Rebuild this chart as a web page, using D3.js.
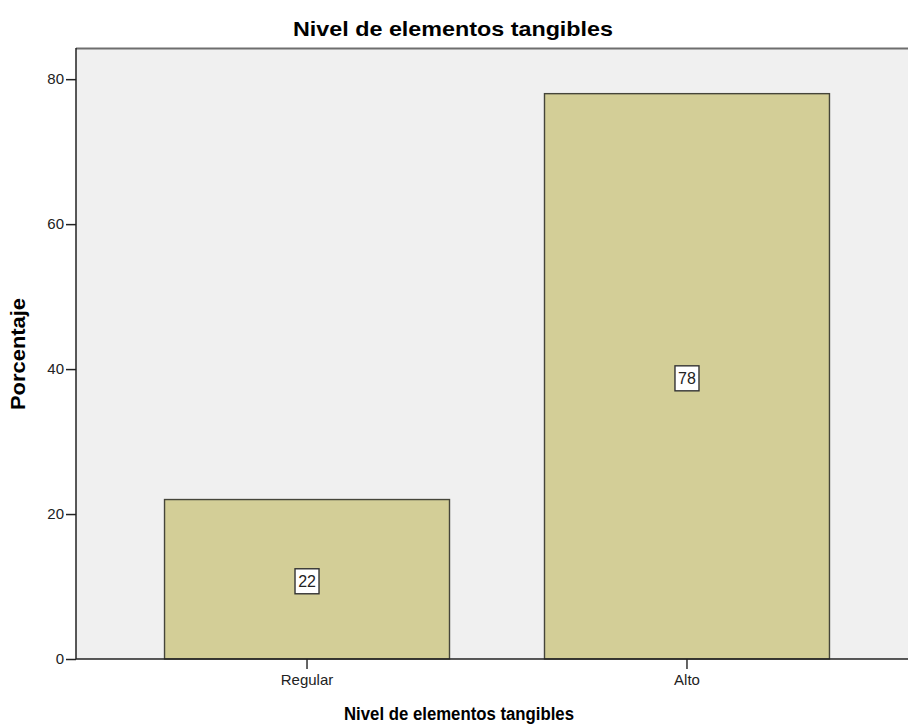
<!DOCTYPE html>
<html lang="es">
<head>
	<meta charset="utf-8">
	<title>Nivel de elementos tangibles</title>
	<script src="https://cdn.jsdelivr.net/npm/d3@7"></script>
	<style>
		body { margin: 0; background: #fff; }
		text { font-family: "Liberation Sans", Arial, sans-serif; }
	</style>
</head>
<body>
<script>
	// data
	var categories = ["Regular", "Alto"];
	var porcentajes = [22, 78];
	var yTicks = [0, 20, 40, 60, 80];

	var width = 908, height = 727;
	var margin = {top: 48, right: -10, bottom: 68, left: 76};
	var plotW = width - margin.left - margin.right;
	var plotH = height - margin.top - margin.bottom;

	var svg = d3.select("body").append("svg")
		.attr("width", width)
		.attr("height", height);

	var g = svg.append("g")
		.attr("transform", "translate(" + margin.left + "," + margin.top + ")");

	var x = d3.scaleBand()
		.domain(categories)
		.range([0, plotW])
		.paddingInner(0.25)
		.paddingOuter(0.233);

	var y = d3.scaleLinear()
		.domain([0, 84.3])
		.range([plotH, 0]);

	// plot background
	g.append("rect")
		.attr("x", 0).attr("y", 0)
		.attr("width", plotW).attr("height", plotH)
		.attr("fill", "#f0f0f0");
	g.append("line")
		.attr("x1", 0).attr("x2", plotW)
		.attr("y1", 0.5).attr("y2", 0.5)
		.attr("stroke", "#6e6e6e").attr("stroke-width", 2);

	// bars
	g.selectAll("rect.bar")
		.data(porcentajes)
		.enter().append("rect")
		.attr("class", "bar")
		.attr("x", function(d, i) { return x(categories[i]); })
		.attr("y", function(d) { return y(d); })
		.attr("width", x.bandwidth())
		.attr("height", function(d) { return plotH - y(d); })
		.attr("fill", "#d3ce97")
		.attr("stroke", "#45453a")
		.attr("stroke-width", 1.4);

	// value labels
	var lab = g.selectAll("g.lab")
		.data(porcentajes)
		.enter().append("g")
		.attr("class", "lab")
		.attr("transform", function(d, i) {
			return "translate(" + (x(categories[i]) + x.bandwidth() / 2) + "," + ((y(d) + plotH) / 2 + 1.5) + ")";
		});
	lab.append("rect")
		.attr("x", -12).attr("y", -12)
		.attr("width", 24).attr("height", 25)
		.attr("fill", "#fff")
		.attr("stroke", "#333")
		.attr("stroke-width", 1.4);
	lab.append("text")
		.attr("text-anchor", "middle")
		.attr("dy", "0.36em")
		.style("font-size", "16px")
		.attr("fill", "#222")
		.text(function(d) { return d; });

	// axes
	var yAxis = d3.axisLeft(y).tickValues(yTicks).tickSize(10).tickPadding(2);
	var gy = g.append("g").call(yAxis);
	gy.select(".domain").attr("stroke", "#222").attr("stroke-width", 1.5).attr("d", "M0," + plotH + "V0");
	gy.selectAll(".tick line").attr("stroke", "#222").attr("stroke-width", 1.5);
	gy.selectAll(".tick text").style("font-size", "15px").attr("fill", "#222");

	var xAxis = d3.axisBottom(x).tickSize(10).tickPadding(5);
	var gx = g.append("g").attr("transform", "translate(0," + plotH + ")").call(xAxis);
	gx.select(".domain").attr("stroke", "#222").attr("stroke-width", 1.5).attr("d", "M0,0H" + plotW);
	gx.selectAll(".tick line").attr("stroke", "#222").attr("stroke-width", 1.4);
	gx.selectAll(".tick text").style("font-size", "15px").attr("fill", "#222");

	// titles
	svg.append("text")
		.attr("x", 453).attr("y", 36)
		.attr("text-anchor", "middle")
		.attr("textLength", 320).attr("lengthAdjust", "spacingAndGlyphs")
		.style("font-size", "21px").style("font-weight", "bold")
		.text("Nivel de elementos tangibles");

	svg.append("text")
		.attr("x", 459).attr("y", 720)
		.attr("text-anchor", "middle")
		.attr("textLength", 230).attr("lengthAdjust", "spacingAndGlyphs")
		.style("font-size", "18px").style("font-weight", "bold")
		.text("Nivel de elementos tangibles");

	svg.append("text")
		.attr("transform", "translate(25,354) rotate(-90)")
		.attr("text-anchor", "middle")
		.attr("textLength", 112).attr("lengthAdjust", "spacingAndGlyphs")
		.style("font-size", "20px").style("font-weight", "bold")
		.text("Porcentaje");
</script>
</body>
</html>
